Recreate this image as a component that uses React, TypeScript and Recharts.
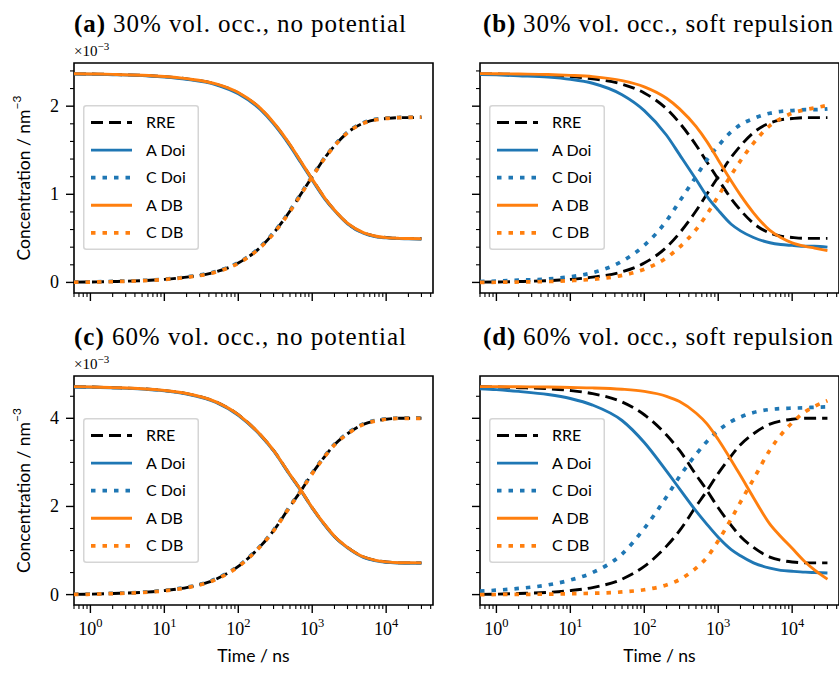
import React from "react";
import { LineChart, Line, XAxis, YAxis, ReferenceArea, Legend } from "recharts";

const BLUE = "#1f77b4";
const ORANGE = "#ff7f0e";
const SERIF = "'Liberation Serif', 'DejaVu Serif', serif";
const SANS = "Lato, 'Open Sans', sans-serif";

// time points (ns)
const times = [0.6, 1, 2, 5, 10, 20, 50, 100, 200, 300, 500, 700, 1000, 1500, 2000, 3000, 5000, 7000, 10000, 15000, 20000, 30000];

// 30% vol. occ. - reaction rate equations
const rreA30 = [2.367, 2.365, 2.36, 2.35, 2.335, 2.31, 2.25, 2.15, 1.97, 1.81, 1.56, 1.37, 1.17, 0.95, 0.82, 0.67, 0.56, 0.525, 0.51, 0.5, 0.5, 0.5];
const rreC30 = [0.003, 0.005, 0.01, 0.02, 0.035, 0.06, 0.12, 0.22, 0.4, 0.56, 0.81, 1.0, 1.2, 1.42, 1.55, 1.7, 1.81, 1.845, 1.86, 1.87, 1.87, 1.87];

// (a) no potential
const doiA30a = [2.365, 2.363, 2.357, 2.347, 2.331, 2.305, 2.243, 2.14, 1.96, 1.8, 1.55, 1.36, 1.16, 0.94, 0.815, 0.665, 0.555, 0.52, 0.505, 0.497, 0.495, 0.49];
const doiC30a = [0.004, 0.006, 0.012, 0.022, 0.037, 0.063, 0.125, 0.225, 0.405, 0.565, 0.815, 1.005, 1.205, 1.425, 1.555, 1.705, 1.815, 1.85, 1.865, 1.872, 1.874, 1.876];
const dbA30a = [2.368, 2.366, 2.361, 2.351, 2.337, 2.312, 2.253, 2.155, 1.975, 1.815, 1.565, 1.375, 1.172, 0.952, 0.822, 0.672, 0.562, 0.527, 0.508, 0.5, 0.498, 0.495];
const dbC30a = [0.002, 0.004, 0.009, 0.019, 0.034, 0.058, 0.118, 0.218, 0.398, 0.555, 0.805, 0.995, 1.198, 1.418, 1.548, 1.698, 1.808, 1.843, 1.862, 1.87, 1.872, 1.875];

// (b) soft repulsion
const doiA30b = [2.36, 2.355, 2.345, 2.33, 2.305, 2.26, 2.13, 1.95, 1.67, 1.45, 1.17, 0.98, 0.82, 0.66, 0.585, 0.51, 0.45, 0.43, 0.42, 0.41, 0.41, 0.4];
const doiC30b = [0.01, 0.015, 0.025, 0.04, 0.065, 0.11, 0.24, 0.42, 0.7, 0.92, 1.2, 1.39, 1.55, 1.71, 1.79, 1.86, 1.92, 1.94, 1.95, 1.96, 1.96, 1.97];
const dbA30b = [2.369, 2.368, 2.365, 2.36, 2.35, 2.335, 2.29, 2.22, 2.09, 1.97, 1.77, 1.6, 1.39, 1.15, 0.99, 0.79, 0.59, 0.51, 0.45, 0.41, 0.39, 0.36];
const dbC30b = [0.001, 0.002, 0.005, 0.01, 0.02, 0.035, 0.08, 0.15, 0.28, 0.4, 0.6, 0.77, 0.98, 1.22, 1.38, 1.58, 1.78, 1.86, 1.92, 1.96, 1.98, 2.01];

// 60% vol. occ. - reaction rate equations
const rreA60 = [4.715, 4.71, 4.695, 4.67, 4.63, 4.56, 4.37, 4.08, 3.62, 3.27, 2.72, 2.37, 1.97, 1.57, 1.32, 1.07, 0.85, 0.78, 0.74, 0.72, 0.72, 0.72];
const rreC60 = [0.005, 0.01, 0.025, 0.05, 0.09, 0.16, 0.35, 0.64, 1.1, 1.45, 2.0, 2.35, 2.75, 3.15, 3.4, 3.65, 3.87, 3.94, 3.98, 4.0, 4.0, 4.0];

// (c) no potential
const doiA60c = [4.71, 4.705, 4.69, 4.664, 4.622, 4.552, 4.36, 4.068, 3.61, 3.26, 2.71, 2.36, 1.96, 1.56, 1.31, 1.06, 0.84, 0.77, 0.73, 0.715, 0.71, 0.71];
const doiC60c = [0.008, 0.013, 0.028, 0.054, 0.095, 0.166, 0.358, 0.65, 1.11, 1.46, 2.01, 2.36, 2.76, 3.16, 3.41, 3.66, 3.88, 3.95, 3.99, 4.005, 4.01, 4.01];
const dbA60c = [4.718, 4.712, 4.697, 4.672, 4.633, 4.563, 4.373, 4.085, 3.625, 3.275, 2.725, 2.375, 1.975, 1.575, 1.325, 1.073, 0.853, 0.782, 0.742, 0.724, 0.722, 0.72];
const dbC60c = [0.004, 0.008, 0.023, 0.047, 0.087, 0.156, 0.345, 0.635, 1.095, 1.445, 1.995, 2.345, 2.745, 3.145, 3.395, 3.645, 3.866, 3.937, 3.978, 3.998, 4.0, 4.0];

// (d) soft repulsion
const doiA60d = [4.67, 4.65, 4.61, 4.54, 4.45, 4.3, 3.95, 3.45, 2.8, 2.4, 1.9, 1.6, 1.3, 1.02, 0.88, 0.72, 0.6, 0.55, 0.53, 0.51, 0.5, 0.49];
const doiC60d = [0.08, 0.1, 0.14, 0.22, 0.33, 0.5, 0.92, 1.5, 2.22, 2.68, 3.18, 3.47, 3.72, 3.93, 4.03, 4.13, 4.2, 4.22, 4.23, 4.24, 4.25, 4.26];
const dbA60d = [4.72, 4.72, 4.715, 4.71, 4.7, 4.69, 4.66, 4.61, 4.5, 4.38, 4.12, 3.88, 3.52, 3.05, 2.7, 2.2, 1.6, 1.32, 1.05, 0.74, 0.56, 0.35];
const dbC60d = [0.0, 0.002, 0.005, 0.01, 0.02, 0.03, 0.06, 0.11, 0.22, 0.34, 0.6, 0.84, 1.22, 1.72, 2.1, 2.62, 3.28, 3.62, 3.9, 4.15, 4.27, 4.4];

// ticks
const xMajor = [1, 10, 100, 1000, 10000];
const xTicks = [
  0.6, 0.7, 0.8, 0.9, 1, 2, 3, 4, 5, 6, 7, 8, 9, 10, 20, 30, 40, 50, 60, 70, 80, 90, 100,
  200, 300, 400, 500, 600, 700, 800, 900, 1000, 2000, 3000, 4000, 5000, 6000, 7000, 8000, 9000,
  10000, 20000, 30000, 40000,
];
const yTicks30 = [0, 0.2, 0.4, 0.6, 0.8, 1, 1.2, 1.4, 1.6, 1.8, 2, 2.2, 2.4];
const yMajor30 = [0, 1, 2];
const yTicks60 = [0, 0.5, 1, 1.5, 2, 2.5, 3, 3.5, 4, 4.5];
const yMajor60 = [0, 2, 4];

const X_DOMAIN = [0.6, 43000];

const legendItems = [
  { name: "RRE", color: "#000", dash: "12 6", width: 2.9 },
  { name: "A Doi", color: BLUE, dash: undefined, width: 2.9 },
  { name: "C Doi", color: BLUE, dash: "4.5 7", width: 3.7 },
  { name: "A DB", color: ORANGE, dash: undefined, width: 2.9 },
  { name: "C DB", color: ORANGE, dash: "4.5 7", width: 3.7 },
];

function rows(rreA: number[], rreC: number[], doiA: number[], doiC: number[], dbA: number[], dbC: number[]) {
  return times.map((t, i) => ({
    t,
    rreA: rreA[i],
    rreC: rreC[i],
    doiA: doiA[i],
    doiC: doiC[i],
    dbA: dbA[i],
    dbC: dbC[i],
  }));
}

const panels = [
  {
    id: "a", tag: "(a)", title: "30% vol. occ., no potential", left: 0, top: 0, bottom: false, first: true,
    data: rows(rreA30, rreC30, doiA30a, doiC30a, dbA30a, dbC30a),
    yDomain: [-0.12, 2.49], yTicks: yTicks30, yMajor: yMajor30,
  },
  {
    id: "b", tag: "(b)", title: "30% vol. occ., soft repulsion", left: 406, top: 0, bottom: false, first: false,
    data: rows(rreA30, rreC30, doiA30b, doiC30b, dbA30b, dbC30b),
    yDomain: [-0.12, 2.49], yTicks: yTicks30, yMajor: yMajor30,
  },
  {
    id: "c", tag: "(c)", title: "60% vol. occ., no potential", left: 0, top: 313, bottom: true, first: true,
    data: rows(rreA60, rreC60, doiA60c, doiC60c, dbA60c, dbC60c),
    yDomain: [-0.236, 4.96], yTicks: yTicks60, yMajor: yMajor60,
  },
  {
    id: "d", tag: "(d)", title: "60% vol. occ., soft repulsion", left: 406, top: 313, bottom: true, first: false,
    data: rows(rreA60, rreC60, doiA60d, doiC60d, dbA60d, dbC60d),
    yDomain: [-0.236, 4.96], yTicks: yTicks60, yMajor: yMajor60,
  },
];

const makeXTick = (showLabel: boolean) => (props: any) => {
  const { x, y, payload } = props;
  const v = payload.value;
  const major = xMajor.includes(v);
  return (
    <g>
      <line x1={x} y1={y} x2={x} y2={y + (major ? 8 : 4)} stroke="#000" strokeWidth={major ? 1.4 : 1.1} />
      {major && showLabel && (
        <text x={x} y={y + 30} textAnchor="middle" fontFamily={SERIF} fontSize={18} fill="#000">
          10<tspan dy={-8} fontSize={12.5}>{Math.round(Math.log10(v))}</tspan>
        </text>
      )}
    </g>
  );
};

const makeYTick = (showLabel: boolean, majors: number[]) => (props: any) => {
  const { x, y, payload } = props;
  const v = payload.value;
  const major = majors.includes(v);
  return (
    <g>
      <line x1={x} y1={y} x2={x - (major ? 8 : 4)} y2={y} stroke="#000" strokeWidth={major ? 1.4 : 1.1} />
      {major && showLabel && (
        <text x={x - 15} y={y + 6} textAnchor="end" fontFamily={SERIF} fontSize={18} fill="#000">
          {v}
        </text>
      )}
    </g>
  );
};

function LegendBox() {
  return (
    <svg width={116} height={145}>
      <rect x={0.75} y={0.75} width={114.5} height={143.5} rx={2.5} fill="rgba(255,255,255,0.8)" stroke="#d5d5d5" strokeWidth={1.5} />
      {legendItems.map((it, i) => {
        const cy = 17.5 + i * 27.6;
        return (
          <g key={it.name}>
            <line x1={8} x2={49} y1={cy} y2={cy} stroke={it.color} strokeWidth={it.width} strokeDasharray={it.dash} />
            <text x={63} y={cy + 5.5} fontFamily={SANS} fontSize={16} fill="#000">
              {it.name}
            </text>
          </g>
        );
      })}
    </svg>
  );
}

function Panel({ p }: { p: (typeof panels)[number] }) {
  const h = p.bottom ? 360 : 330;
  const xh = p.bottom ? 60 : 30;
  return (
    <div style={{ position: "absolute", left: p.left, top: p.top, width: 440, height: h }}>
      <LineChart width={440} height={h} data={p.data} margin={{ top: 63, right: 7, bottom: p.bottom ? 8 : 7, left: 0 }}>
        <XAxis
          dataKey="t"
          type="number"
          scale="log"
          domain={X_DOMAIN}
          allowDataOverflow
          ticks={xTicks}
          interval={0}
          height={xh}
          axisLine={false}
          tickLine={false}
          tickSize={0}
          tickMargin={0}
          tick={makeXTick(p.bottom)}
          label={
            p.bottom
              ? (lp: any) => {
                  const vb = lp.viewBox;
                  return (
                    <text x={vb.x + vb.width / 2} y={vb.y + 57} textAnchor="middle" fontFamily={SANS} fontSize={17.5} fill="#000">
                      Time / ns
                    </text>
                  );
                }
              : undefined
          }
        />
        <YAxis
          type="number"
          domain={p.yDomain}
          allowDataOverflow
          ticks={p.yTicks}
          interval={0}
          width={74}
          axisLine={false}
          tickLine={false}
          tickSize={0}
          tickMargin={0}
          tick={makeYTick(p.first, p.yMajor)}
          label={
            p.first
              ? (lp: any) => {
                  const vb = lp.viewBox;
                  const cx = 23;
                  const cy = vb.y + vb.height / 2;
                  return (
                    <text x={cx} y={cy} transform={`rotate(-90, ${cx}, ${cy})`} textAnchor="middle" dominantBaseline="central" fontFamily={SANS} fontSize={17.5} fill="#000">
                      Concentration / nm<tspan dy={-7} fontSize={12}>−3</tspan>
                    </text>
                  );
                }
              : undefined
          }
        />
        <Line type="monotone" dataKey="rreA" stroke="#000" strokeWidth={2.9} strokeDasharray="12 6" dot={false} isAnimationActive={false} />
        <Line type="monotone" dataKey="rreC" stroke="#000" strokeWidth={2.9} strokeDasharray="12 6" dot={false} isAnimationActive={false} />
        <Line type="monotone" dataKey="doiA" stroke={BLUE} strokeWidth={2.9} dot={false} isAnimationActive={false} />
        <Line type="monotone" dataKey="doiC" stroke={BLUE} strokeWidth={3.7} strokeDasharray="4.5 7" dot={false} isAnimationActive={false} />
        <Line type="monotone" dataKey="dbA" stroke={ORANGE} strokeWidth={2.9} dot={false} isAnimationActive={false} />
        <Line type="monotone" dataKey="dbC" stroke={ORANGE} strokeWidth={3.7} strokeDasharray="4.5 7" dot={false} isAnimationActive={false} />
        <ReferenceArea x1={X_DOMAIN[0]} x2={X_DOMAIN[1]} y1={p.yDomain[0]} y2={p.yDomain[1]} fill="none" fillOpacity={0} stroke="#000" strokeWidth={1.6} />
        <Legend
          layout="vertical"
          align="center"
          verticalAlign="middle"
          content={() => <LegendBox />}
          wrapperStyle={{ left: 83, top: 105, width: 116, height: 145 }}
        />
      </LineChart>
      <svg width={440} height={62} style={{ position: "absolute", left: 0, top: 0, pointerEvents: "none" }}>
        <text x={p.first ? 74 : 77} y={32} fontFamily={SERIF} fontSize={25} fill="#000" textLength={p.first ? 332 : 350} lengthAdjust="spacing">
          <tspan fontWeight="bold">{p.tag}</tspan> {p.title}
        </text>
        {p.first && (
          <text x={74} y={56} fontFamily={SERIF} fontSize={15} fill="#000">
            ×10<tspan dy={-6} fontSize={11}>−3</tspan>
          </text>
        )}
      </svg>
    </div>
  );
}

export default function App() {
  return (
    <div style={{ position: "relative", width: 839, height: 673, overflow: "hidden", background: "#fff" }}>
      <style>{`body{margin:0}`}</style>
      {panels.map((p) => (
        <Panel key={p.id} p={p} />
      ))}
    </div>
  );
}
